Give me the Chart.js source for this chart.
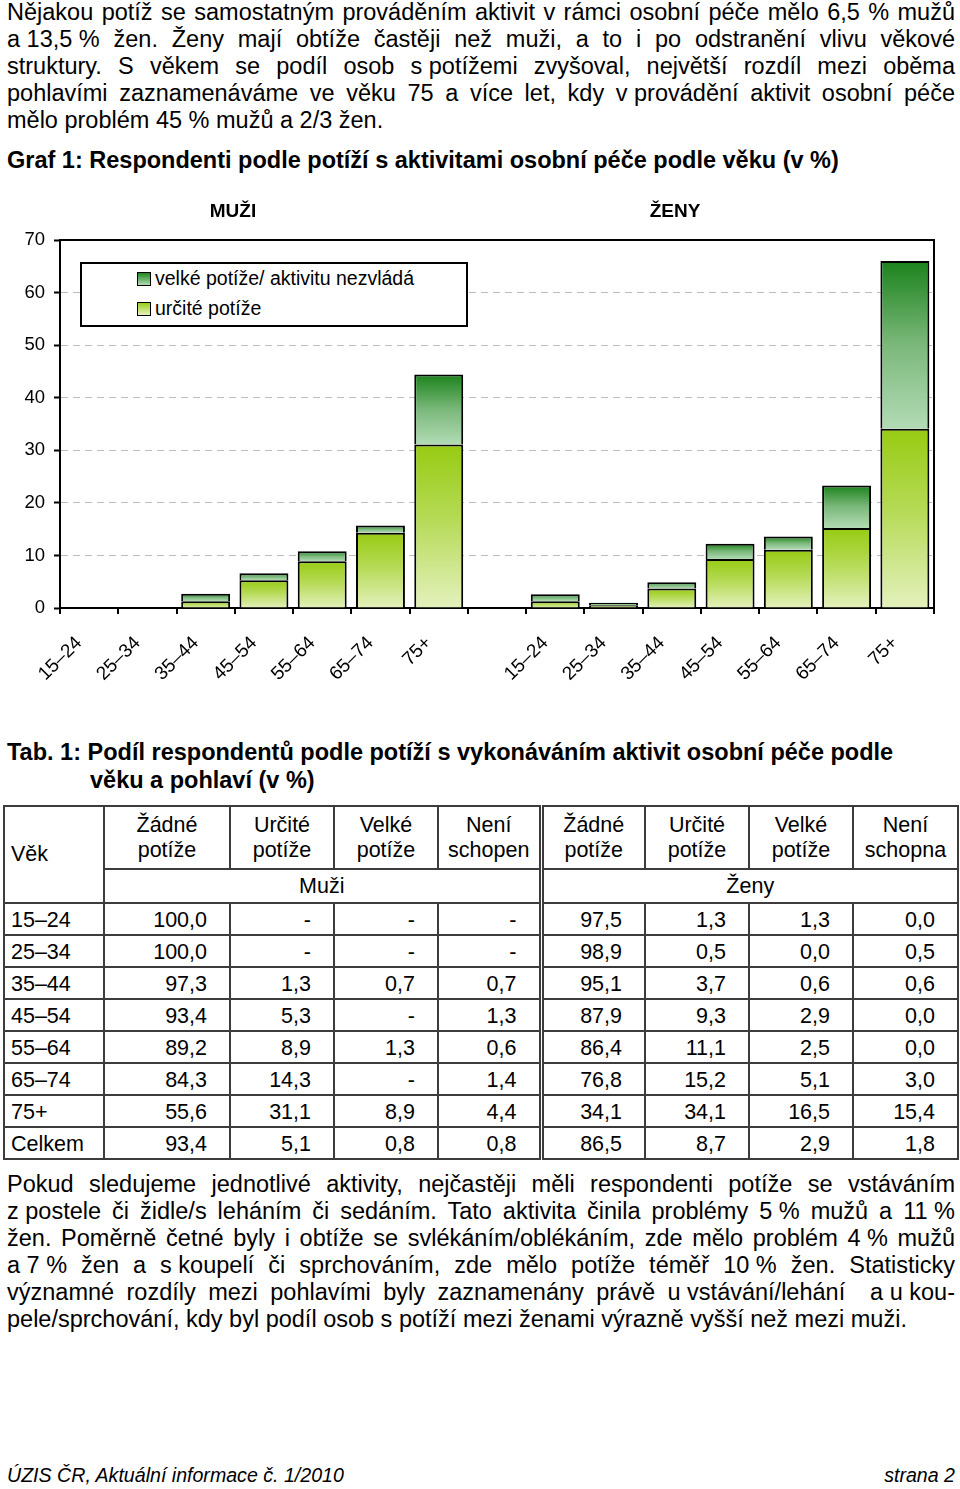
<!DOCTYPE html>
<html><head><meta charset="utf-8">
<script src="https://cdn.jsdelivr.net/npm/chart.js@4.4.0/dist/chart.umd.min.js"></script>
<style>
html,body{margin:0;padding:0;background:#fff;}
body{width:960px;height:1489px;position:relative;overflow:hidden;font-family:'Liberation Sans',Arial,sans-serif;color:#000;}
.abs{position:absolute;}
.para{left:7px;width:948px;font-size:23.5px;line-height:27px;}
.para div{white-space:nowrap;text-align:justify;text-align-last:justify;}
.para div.last{text-align-last:left;}
.nb{display:inline-block;white-space:nowrap;}
.h{font-weight:bold;font-size:23.5px;line-height:28px;white-space:nowrap;}
#chartBox{left:0;top:190px;width:960px;height:510px;}
.ctitle{font-weight:bold;font-size:19px;line-height:22px;transform:translateX(-50%);}
#legend{left:80px;top:262px;width:388px;height:65px;box-sizing:border-box;border:2px solid #000;background:#fff;font-size:19.5px;}
#legend .it{position:absolute;left:55px;height:24px;line-height:24px;white-space:nowrap;}
#legend .sw{display:inline-block;width:12px;height:12px;border:1.5px solid #000;vertical-align:-1px;margin-right:4px;}
table{position:absolute;left:3px;top:805px;width:954px;border-collapse:collapse;table-layout:fixed;font-size:21.5px;}
td{border:2px solid #3c3c3c;padding:0;height:30px;line-height:25px;}
td.num{text-align:right;padding-right:22px;padding-top:3px;height:27px;}
tr td.age{text-align:left;padding-left:6px;}
tr.d td.age{padding-top:3px;height:27px;}
tr.h1 td{height:61px;text-align:center;}
tr.h1 td.age{text-align:left;padding-left:6px;}
tr.h2 td{height:32px;text-align:center;}
td.dbl{border-left:5px double #3c3c3c;}
#footer{left:7px;top:1464px;width:948px;font-size:19.6px;font-style:italic;line-height:23px;}
</style>
</head><body>

<div class="abs para" style="top:-1px">
<div>Nějakou potíž se samostatným prováděním aktivit v rámci osobní péče mělo 6,5 % mužů</div>
<div><span class="nb">a 13,5 %</span> žen. Ženy mají obtíže častěji než muži, a to i po odstranění vlivu věkové</div>
<div>struktury. S věkem se podíl osob <span class="nb">s potížemi</span> zvyšoval, největší rozdíl mezi oběma</div>
<div>pohlavími zaznamenáváme ve věku 75 a více let, kdy <span class="nb">v provádění</span> aktivit osobní péče</div>
<div class="last">mělo problém 45 % mužů a 2/3 žen.</div>
</div>

<div class="abs h" style="left:7px;top:146px">Graf 1: Respondenti podle potíží s aktivitami osobní péče podle věku (v %)</div>

<div class="abs" id="chartBox"><canvas id="c" width="960" height="510"></canvas></div>
<div class="abs ctitle" style="left:233px;top:200px">MUŽI</div>
<div class="abs ctitle" style="left:675px;top:200px">ŽENY</div>
<div class="abs" id="legend">
  <div class="it" style="top:2px"><span class="sw" style="background:linear-gradient(#1e861e,#b0dab4)"></span>velké potíže/ aktivitu nezvládá</div>
  <div class="it" style="top:32px"><span class="sw" style="background:linear-gradient(#9acd1c,#e6f2c0)"></span>určité potíže</div>
</div>

<div class="abs h" style="left:7px;top:738px">Tab. 1: Podíl respondentů podle potíží s vykonáváním aktivit osobní péče podle<br><span style="padding-left:83px">věku a pohlaví (v %)</span></div>

<table id="tab">
<colgroup><col style="width:100px"><col style="width:126px"><col style="width:104px"><col style="width:104px"><col style="width:103px"><col style="width:104px"><col style="width:104px"><col style="width:104px"><col style="width:105px"></colgroup>
<tbody id="tb"></tbody>
</table>

<div class="abs para" style="top:1171px">
<div>Pokud sledujeme jednotlivé aktivity, nejčastěji měli respondenti potíže se vstáváním</div>
<div><span class="nb">z postele</span> či židle/s leháním či sedáním. Tato aktivita činila problémy <span class="nb">5 %</span> mužů a <span class="nb">11 %</span></div>
<div>žen. Poměrně četné byly i obtíže se svlékáním/oblékáním, zde mělo problém <span class="nb">4 %</span> mužů</div>
<div><span class="nb">a 7 %</span> žen a <span class="nb">s koupelí</span> či sprchováním, zde mělo potíže téměř <span class="nb">10 %</span> žen. Statisticky</div>
<div>významné rozdíly mezi pohlavími byly zaznamenány právě <span class="nb">u vstávání/lehání</span> &nbsp;<span class="nb">a u kou-</span></div>
<div class="last">pele/sprchování, kdy byl podíl osob s potíží mezi ženami výrazně vyšší než mezi muži.</div>
</div>

<div class="abs" id="footer"><span>ÚZIS ČR, Aktuální informace č. 1/2010</span><span style="position:absolute;right:0">strana 2</span></div>

<script>
// ---- chart data ----
const ageGroups = ['15–24','25–34','35–44','45–54','55–64','65–74','75+'];
const menSome = [0, 0, 1.3, 5.3, 8.9, 14.3, 31.1];
const menSevere = [0, 0, 1.4, 1.3, 1.9, 1.4, 13.3];
const womenSome = [1.3, 0.5, 3.7, 9.3, 11.1, 15.2, 34.1];
const womenSevere = [1.3, 0.5, 1.2, 2.9, 2.5, 8.1, 31.9];
const yTicks = [0, 10, 20, 30, 40, 50, 60, 70];
const seriesNames = ['určité potíže', 'velké potíže/ aktivitu nezvládá'];

// ---- table data ----
const tabAges = ['15–24','25–34','35–44','45–54','55–64','65–74','75+','Celkem'];
const tabMenNone = ['100,0','100,0','97,3','93,4','89,2','84,3','55,6','93,4'];
const tabMenSome = ['-','-','1,3','5,3','8,9','14,3','31,1','5,1'];
const tabMenSevere = ['-','-','0,7','-','1,3','-','8,9','0,8'];
const tabMenUnable = ['-','-','0,7','1,3','0,6','1,4','4,4','0,8'];
const tabWomenNone = ['97,5','98,9','95,1','87,9','86,4','76,8','34,1','86,5'];
const tabWomenSome = ['1,3','0,5','3,7','9,3','11,1','15,2','34,1','8,7'];
const tabWomenSevere = ['1,3','0,0','0,6','2,9','2,5','5,1','16,5','2,9'];
const tabWomenUnable = ['0,0','0,5','0,6','0,0','0,0','3,0','15,4','1,8'];
const tabHeadMen = ['Žádné<br>potíže','Určité<br>potíže','Velké<br>potíže','Není<br>schopen'];
const tabHeadWomen = ['Žádné<br>potíže','Určité<br>potíže','Velké<br>potíže','Není<br>schopna'];

// build table
(function(){
  const tb = document.getElementById('tb');
  let h = '<tr class="h1"><td rowspan="2" class="age">Věk</td>';
  tabHeadMen.forEach(t => h += '<td>' + t + '</td>');
  tabHeadWomen.forEach((t, i) => h += '<td' + (i === 0 ? ' class="dbl"' : '') + '>' + t + '</td>');
  h += '</tr><tr class="h2"><td colspan="4">Muži</td><td colspan="4" class="dbl">Ženy</td></tr>';
  tabAges.forEach((a, r) => {
    h += '<tr class="d"><td class="age">' + a + '</td>';
    [tabMenNone, tabMenSome, tabMenSevere, tabMenUnable].forEach(col => h += '<td class="num">' + col[r] + '</td>');
    [tabWomenNone, tabWomenSome, tabWomenSevere, tabWomenUnable].forEach((col, i) => h += '<td class="num' + (i === 0 ? ' dbl' : '') + '">' + col[r] + '</td>');
    h += '</tr>';
  });
  tb.innerHTML = h;
})();

// combine into one category axis with an empty gap slot
const labels = [...ageGroups, '', ...ageGroups];
const someData = [...menSome, null, ...womenSome];
const severeData = [...menSevere, null, ...womenSevere];

const lightStops = [[0, '#97cb12'], [0.45, '#b5da55'], [1, '#e4f1bd']];
const darkStops = [[0, '#1b831b'], [0.5, '#7bb87b'], [1, '#b2dbb5']];

function segGrad(c, stops, fallback, lowerArr) {
  const chart = c.chart;
  if (c.type !== 'data' || !chart.chartArea || !chart.scales || !chart.scales.y) return fallback;
  const v = c.raw;
  if (v == null || !v) return fallback;
  const ys = chart.scales.y;
  const base = lowerArr ? (lowerArr[c.dataIndex] || 0) : 0;
  const y0 = ys.getPixelForValue(base + v), y1 = ys.getPixelForValue(base);
  if (!isFinite(y0) || !isFinite(y1) || y1 - y0 < 1) return fallback;
  const g = chart.ctx.createLinearGradient(0, y0, 0, y1);
  stops.forEach(s => g.addColorStop(s[0], s[1]));
  return g;
}

const framePlugin = {
  id: 'frame',
  afterDatasetsDraw(chart) {
    const a = chart.chartArea, ctx = chart.ctx;
    ctx.save();
    ctx.strokeStyle = '#000';
    ctx.lineWidth = 2;
    ctx.beginPath();
    ctx.moveTo(a.left, a.top);
    ctx.lineTo(a.right, a.top);
    ctx.lineTo(a.right, a.bottom);
    ctx.stroke();
    ctx.restore();
  }
};

Chart.defaults.font.family = "'Liberation Sans', Arial, sans-serif";
Chart.defaults.color = '#000';

new Chart(document.getElementById('c'), {
  type: 'bar',
  data: {
    labels: labels,
    datasets: [
      {
        label: seriesNames[0],
        data: someData,
        backgroundColor: c => segGrad(c, lightStops, '#b5da55', null),
        borderColor: '#000', borderWidth: 2,
        barPercentage: 0.84, categoryPercentage: 1.0
      },
      {
        label: seriesNames[1],
        data: severeData,
        backgroundColor: c => segGrad(c, darkStops, '#7bb87b', someData),
        borderColor: '#000', borderWidth: 2,
        barPercentage: 0.84, categoryPercentage: 1.0
      }
    ]
  },
  options: {
    responsive: false,
    animation: false,
    layout: { padding: { top: 50, right: 26, left: 0, bottom: 0 } },
    plugins: { legend: { display: false }, tooltip: { enabled: false }, title: { display: false } },
    scales: {
      x: {
        stacked: true,
        offset: true,
        grid: { offset: true, drawOnChartArea: false, drawTicks: true, tickLength: 6, color: '#000', tickColor: '#000', lineWidth: 2, tickWidth: 2 },
        border: { display: true, color: '#000', width: 2 },
        ticks: { autoSkip: false, maxRotation: 45, minRotation: 45, font: { size: 19 }, color: '#000', padding: 18, labelOffset: -10 },
        afterFit: s => { s.height = 92; }
      },
      y: {
        stacked: true,
        min: yTicks[0], max: yTicks[yTicks.length - 1],
        afterBuildTicks: s => { s.ticks = yTicks.map(v => ({ value: v })); },
        grid: {
          color: c => (c.tick && c.tick.value > 0 && c.tick.value < 70) ? '#bdbdbd' : 'rgba(0,0,0,0)',
          lineWidth: 1, tickLength: 6, tickColor: '#000', tickWidth: 2
        },
        border: { display: true, color: '#000', width: 2, dash: c => (c.tick && c.tick.value > 0 && c.tick.value < 70) ? [7, 5] : [] },
        ticks: { font: { size: 18.5 }, color: '#000', padding: 9 },
        afterFit: s => { s.width = 60; }
      }
    }
  },
  plugins: [framePlugin]
});
</script>
</body></html>
